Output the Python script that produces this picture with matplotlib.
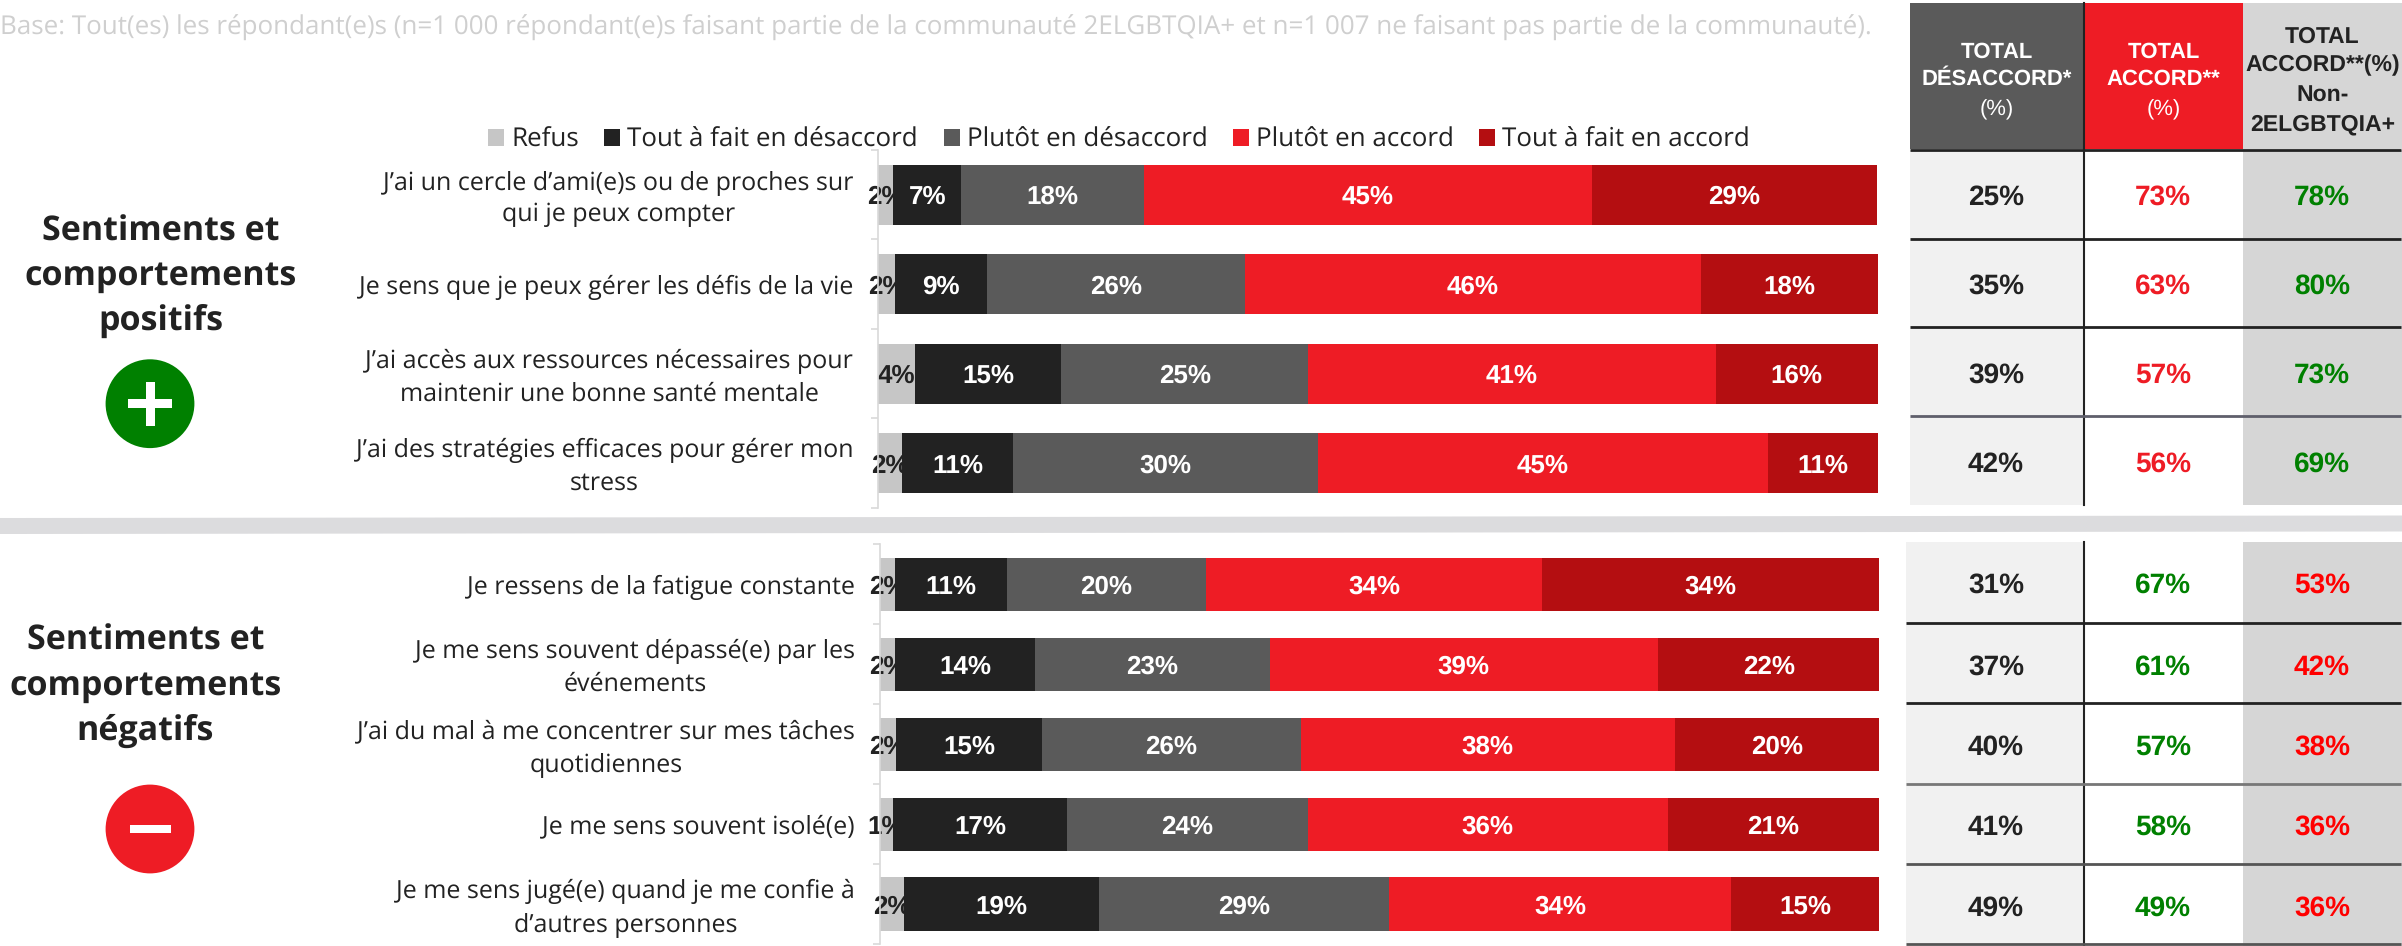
import matplotlib
matplotlib.use("Agg")
import matplotlib.pyplot as plt
from matplotlib.patches import Circle, Polygon, Rectangle
from matplotlib.transforms import ScaledTranslation

plt.rcParams["text.hinting"] = "no_hinting"
plt.rcParams["text.hinting_factor"] = 1

W, H = 2402, 946
TEXT_FONT = "Open Sans"
NUM_FONT = "Liberation Sans"

DARK = "#222222"
GREY = "#5a5a5a"
RED = "#ee1c25"
DARKRED = "#b40e11"
REFUS = "#c6c6c6"
GREEN = "#008000"
PURE_RED = "#ff0000"

BASE_NOTE = ("Base: Tout(es) les répondant(e)s (n=1 000 répondant(e)s faisant partie de la "
             "communauté 2ELGBTQIA+ et n=1 007 ne faisant pas partie de la communauté).")
SERIES = ["Refus", "Tout à fait en désaccord", "Plutôt en désaccord",
          "Plutôt en accord", "Tout à fait en accord"]
SERIES_COLORS = [REFUS, DARK, GREY, RED, DARKRED]
SERIES_TEXT = [DARK, "white", "white", "white", "white"]

# positive block
pos_cats = ["J’ai un cercle d’ami(e)s ou de proches sur\nqui je peux compter",
            "Je sens que je peux gérer les défis de la vie",
            "J’ai accès aux ressources nécessaires pour\nmaintenir une bonne santé mentale",
            "J’ai des stratégies efficaces pour gérer mon\nstress"]
pos_refus = [1.5, 1.7, 3.7, 2.4]
pos_tout_des = [6.8, 9.2, 14.6, 11.1]
pos_plutot_des = [18.3, 25.8, 24.7, 30.5]
pos_plutot_acc = [44.8, 45.6, 40.8, 45.0]
pos_tout_acc = [28.5, 17.7, 16.2, 11.0]
pos_labels = [[2, 7, 18, 45, 29], [2, 9, 26, 46, 18], [4, 15, 25, 41, 16], [2, 11, 30, 45, 11]]
pos_total_des = ["25%", "35%", "39%", "42%"]
pos_total_acc = ["73%", "63%", "57%", "56%"]
pos_non = ["78%", "80%", "73%", "69%"]

# negative block
neg_cats = ["Je ressens de la fatigue constante",
            "Je me sens souvent dépassé(e) par les\névénements",
            "J’ai du mal à me concentrer sur mes tâches\nquotidiennes",
            "Je me sens souvent isolé(e)",
            "Je me sens jugé(e) quand je me confie à\nd’autres personnes"]
neg_refus = [1.5, 1.5, 1.6, 1.3, 2.4]
neg_tout_des = [11.2, 14.0, 14.6, 17.4, 19.5]
neg_plutot_des = [19.9, 23.5, 25.9, 24.1, 29.1]
neg_plutot_acc = [33.7, 38.9, 37.5, 36.1, 34.2]
neg_tout_acc = [33.7, 22.1, 20.4, 21.1, 14.8]
neg_labels = [[2, 11, 20, 34, 34], [2, 14, 23, 39, 22], [2, 15, 26, 38, 20],
              [1, 17, 24, 36, 21], [2, 19, 29, 34, 15]]
neg_total_des = ["31%", "37%", "40%", "41%", "49%"]
neg_total_acc = ["67%", "61%", "57%", "58%", "49%"]
neg_non = ["53%", "42%", "38%", "36%", "36%"]

HEADER_A = ["TOTAL", "DÉSACCORD*", "(%)"]
HEADER_B = ["TOTAL", "ACCORD**", "(%)"]
HEADER_C = ["TOTAL", "ACCORD**(%)", "Non-", "2ELGBTQIA+"]


def px_axes(fig, left, top, right, bottom):
    return fig.add_axes([left / W, 1 - bottom / H, (right - left) / W, (bottom - top) / H])


def stacked(ax, cats, series, labels):
    y = list(range(len(cats)))
    left = [0.0] * len(cats)
    for s, vals in enumerate(series):
        # refus sits under the next segment, so its label gets cut off like the original
        z = 1 if s == 0 else 3
        ax.barh(y, vals, left=left, height=0.665, color=SERIES_COLORS[s], label=SERIES[s], zorder=z)
        for i, v in enumerate(vals):
            ax.text(left[i] + v / 2, i, f"{labels[i][s]}%", ha="center", va="center_baseline",
                    family=NUM_FONT, weight="bold", fontsize=19, color=SERIES_TEXT[s],
                    zorder=z + 1)
        left = [a + b for a, b in zip(left, vals)]
    ax.set_xlim(0, 100)
    ax.set_ylim(len(cats) - 0.5, -0.5)
    ax.set_yticks(y)
    ax.set_yticklabels(cats, family=TEXT_FONT, fontsize=18.2, color=DARK,
                       multialignment="center", linespacing=1.4)
    ax.set_yticks([i - 0.5 for i in range(len(cats) + 1)], minor=True)
    ax.tick_params(axis="y", which="major", length=0, pad=18)
    ax.tick_params(axis="y", which="minor", length=5, color="#d9d9d9", width=1.2)
    # two-line labels sit a little high in the original; must come after tick_params
    nudge = ScaledTranslation(0, 2.2 / 72, ax.figure.dpi_scale_trans)
    for lab in ax.get_yticklabels():
        if "\n" in lab.get_text():
            lab.set_transform(lab.get_transform() + nudge)
    ax.set_xticks([])
    for side in ("top", "right", "bottom"):
        ax.spines[side].set_visible(False)
    ax.spines["left"].set_color("#d9d9d9")
    ax.spines["left"].set_linewidth(1.2)
    ax.patch.set_alpha(0)


def table(bg, x0, y_top, y_end, line_ys, line_cols, col_a, col_b, col_c, col_b_color, col_c_color, text_ys):
    edges = [x0, 2084, 2243, 2402]
    for j, c in enumerate(["#f1f1f1", "white", "#d6d6d6"]):
        bg.add_patch(Rectangle((edges[j], y_top), edges[j + 1] - edges[j], y_end - y_top,
                               fc=c, ec="none", zorder=1))
    bg.plot([edges[1], edges[1]], [y_top, y_end], color=DARK, lw=1.5, zorder=2)
    for ly, lc in zip(line_ys, line_cols):
        bg.plot([x0, 2401], [ly, ly], color=lc, lw=2, zorder=3, solid_capstyle="butt")
    centers = [1996, 2163, 2322]
    for i, ty in enumerate(text_ys):
        for cx, col, color in zip(centers, [col_a, col_b, col_c], [DARK, col_b_color, col_c_color]):
            bg.text(cx, ty, col[i], ha="center", va="center_baseline", family=NUM_FONT, weight="bold",
                    fontsize=20, color=color, zorder=4)


def header_cell(bg, x0, x1, fill, lines, ys, size, color, thin_last=False):
    bg.add_patch(Rectangle((x0, 3), x1 - x0, 146, fc=fill, ec="none", zorder=1))
    for k, (line, ly) in enumerate(zip(lines, ys)):
        weight = "normal" if thin_last and k == len(lines) - 1 else "bold"
        bg.text((x0 + x1) / 2, ly, line, ha="center", va="center_baseline", family=NUM_FONT,
                weight=weight, fontsize=size, color=color, zorder=2)


fig = plt.figure(figsize=(W / 100, H / 100), dpi=100, facecolor="white")

bg = fig.add_axes([0, 0, 1, 1])
bg.set_xlim(0, W)
bg.set_ylim(H, 0)
bg.axis("off")

bg.text(0, 35, BASE_NOTE, ha="left", va="baseline", family=TEXT_FONT, fontsize=18.5, color="#cfcfcf")
bg.add_patch(Polygon([(0, 518), (2402, 515.5), (2402, 531.5), (0, 534)], fc="#dcdcde", ec="none"))

# group headings and icons
bg.text(161, 276.5, "Sentiments et\ncomportements\npositifs", ha="center", va="center",
        family=TEXT_FONT, weight="bold", fontsize=24.7, color=DARK, linespacing=1.42)
bg.text(145.5, 686, "Sentiments et\ncomportements\nnégatifs", ha="center", va="center",
        family=TEXT_FONT, weight="bold", fontsize=24.7, color=DARK, linespacing=1.42)
bg.add_patch(Circle((150, 403.7), 44.4, fc=GREEN, ec="none"))
bg.add_patch(Rectangle((128, 399.2), 44, 9, fc="white", ec="none", zorder=3))
bg.add_patch(Rectangle((145.5, 382), 9, 44, fc="white", ec="none", zorder=3))
bg.add_patch(Circle((150, 829), 44.4, fc=RED, ec="none"))
bg.add_patch(Rectangle((130, 825), 40.5, 8, fc="white", ec="none", zorder=3))

# table headers
header_cell(bg, 1910, 2084, GREY, HEADER_A, [50, 77, 107], 16.2, "white", thin_last=True)
header_cell(bg, 2084, 2243, RED, HEADER_B, [50, 77, 107], 16.2, "white", thin_last=True)
header_cell(bg, 2243, 2402, "#d6d6d6", HEADER_C, [34, 63, 93, 122], 16.7, DARK)
bg.plot([2084, 2084], [3, 149], color=DARK, lw=1.5, zorder=3)

table(bg, 1910, 150, 505, [150, 238.7, 327.3, 416], [DARK, DARK, DARK, "#5f5f6b"],
      pos_total_des, pos_total_acc, pos_non, RED, GREEN, [194.5, 284, 372.5, 462])
table(bg, 1906, 542, 946, [623, 703, 784, 864.3, 944.3], [DARK, DARK, "#777777", "#555555", "#555555"],
      neg_total_des, neg_total_acc, neg_non, GREEN, PURE_RED, [583, 665, 745, 825, 905.7])

ax_pos = px_axes(fig, 878.3, 150, 1877.7, 508)
stacked(ax_pos, pos_cats, [pos_refus, pos_tout_des, pos_plutot_des, pos_plutot_acc, pos_tout_acc], pos_labels)
ax_neg = px_axes(fig, 880, 544.3, 1879, 944)
stacked(ax_neg, neg_cats, [neg_refus, neg_tout_des, neg_plutot_des, neg_plutot_acc, neg_tout_acc], neg_labels)

handles, names = ax_pos.get_legend_handles_labels()
fig.legend(handles, names, ncol=5, frameon=False, loc="center left",
           bbox_to_anchor=(488 / W, 1 - 139.5 / H), borderaxespad=0, borderpad=0,
           prop={"family": TEXT_FONT, "size": 18.7}, labelcolor=DARK,
           handlelength=0.62, handleheight=0.62, handletextpad=0.27, columnspacing=0.98)

fig.savefig("out.png", dpi=100)
